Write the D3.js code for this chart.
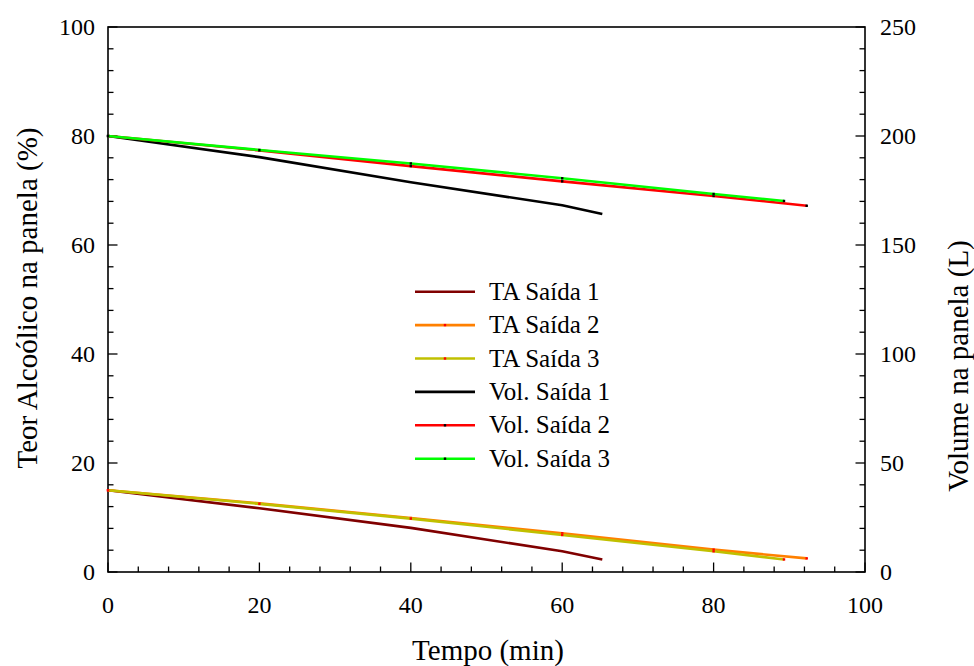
<!DOCTYPE html>
<html>
<head>
<meta charset="utf-8">
<script src="https://cdn.jsdelivr.net/npm/d3@7"></script>
<style>
  html, body { margin: 0; padding: 0; background: #fff; }
  text { font-family: "Liberation Serif", "Times New Roman", serif; fill: #000; }
</style>
</head>
<body>
<svg id="chart" width="974" height="666"></svg>
<script>
// Alcohol content (left axis, %) and pot volume (right axis, L) over time (min)
const timesS1 = [0, 20, 40, 60, 65.3];
const timesS2 = [0, 20, 40, 60, 80, 92.3];
const timesS3 = [0, 20, 40, 60, 80, 89.3];

const taSaida1 = [15, 11.7, 8.1, 3.8, 2.3];
const taSaida2 = [15, 12.6, 9.9, 7.1, 4.1, 2.5];
const taSaida3 = [15, 12.5, 9.8, 6.8, 3.8, 2.3];

const volSaida1 = [200, 190.3, 178.8, 168.2, 164.2];
const volSaida2 = [200, 193.4, 186.2, 179.2, 172.5, 168.0];
const volSaida3 = [200, 193.6, 187.4, 180.6, 173.4, 170.2];

const xTicks = [0, 20, 40, 60, 80, 100];
const yLeftTicks = [0, 20, 40, 60, 80, 100];
const yRightTicks = [0, 50, 100, 150, 200, 250];

const series = [
  { name: "TA Saída 1", x: timesS1, y: taSaida1, axis: "left", color: "#800000", marker: null },
  { name: "TA Saída 2", x: timesS2, y: taSaida2, axis: "left", color: "#ff8000", marker: "#ff0000" },
  { name: "TA Saída 3", x: timesS3, y: taSaida3, axis: "left", color: "#c0c000", marker: "#ff0000" },
  { name: "Vol. Saída 1", x: timesS1, y: volSaida1, axis: "right", color: "#000000", marker: null },
  { name: "Vol. Saída 2", x: timesS2, y: volSaida2, axis: "right", color: "#ff0000", marker: "#000000" },
  { name: "Vol. Saída 3", x: timesS3, y: volSaida3, axis: "right", color: "#00ff00", marker: "#000000" }
];

const svg = d3.select("#chart");
const L = 108, R = 865, T = 27, B = 572;

const x = d3.scaleLinear().domain([0, 100]).range([L, R]);
const yL = d3.scaleLinear().domain([0, 100]).range([B, T]);
const yR = d3.scaleLinear().domain([0, 250]).range([B, T]);

const tickFont = 24;
const legendFont = 25;
const titleFont = 29;

// Minor and major ticks, all pointing inward
const g = svg.append("g");
const minorX = d3.range(0, 101, 4).filter(v => v % 20 !== 0);
const minorL = d3.range(0, 101, 4).filter(v => v % 20 !== 0);
const minorR = d3.range(0, 251, 10).filter(v => v % 50 !== 0);

g.selectAll(".mx").data(minorX).join("line")
  .attr("x1", d => x(d)).attr("x2", d => x(d))
  .attr("y1", B).attr("y2", B - 5.5)
  .attr("stroke", "#000").attr("stroke-width", 1.3);
g.selectAll(".Mx").data(xTicks).join("line")
  .attr("x1", d => x(d)).attr("x2", d => x(d))
  .attr("y1", B).attr("y2", B - 9.5)
  .attr("stroke", "#000").attr("stroke-width", 1.3);

g.selectAll(".ml").data(minorL).join("line")
  .attr("x1", L).attr("x2", L + 5.5)
  .attr("y1", d => yL(d)).attr("y2", d => yL(d))
  .attr("stroke", "#000").attr("stroke-width", 1.3);
g.selectAll(".Ml").data(yLeftTicks).join("line")
  .attr("x1", L).attr("x2", L + 9.5)
  .attr("y1", d => yL(d)).attr("y2", d => yL(d))
  .attr("stroke", "#000").attr("stroke-width", 1.3);

g.selectAll(".mr").data(minorR).join("line")
  .attr("x1", R).attr("x2", R - 5.5)
  .attr("y1", d => yR(d)).attr("y2", d => yR(d))
  .attr("stroke", "#000").attr("stroke-width", 1.3);
g.selectAll(".Mr").data(yRightTicks).join("line")
  .attr("x1", R).attr("x2", R - 9.5)
  .attr("y1", d => yR(d)).attr("y2", d => yR(d))
  .attr("stroke", "#000").attr("stroke-width", 1.3);

// Frame
svg.append("rect")
  .attr("x", L).attr("y", T).attr("width", R - L).attr("height", B - T)
  .attr("fill", "none").attr("stroke", "#000").attr("stroke-width", 1.6);

// Tick labels
svg.append("g").selectAll("text").data(xTicks).join("text")
  .attr("x", d => x(d)).attr("y", 613)
  .attr("text-anchor", "middle").attr("font-size", tickFont)
  .text(d => d);
svg.append("g").selectAll("text").data(yLeftTicks).join("text")
  .attr("x", 95).attr("y", d => yL(d) + 8)
  .attr("text-anchor", "end").attr("font-size", tickFont)
  .text(d => d);
svg.append("g").selectAll("text").data(yRightTicks).join("text")
  .attr("x", 880).attr("y", d => yR(d) + 8)
  .attr("text-anchor", "start").attr("font-size", tickFont)
  .text(d => d);

// Axis titles
svg.append("text")
  .attr("transform", "translate(37,298) rotate(-90)")
  .attr("text-anchor", "middle").attr("font-size", titleFont)
  .text("Teor Alcoólico na panela (%)");
svg.append("text")
  .attr("transform", "translate(968,366) rotate(-90)")
  .attr("text-anchor", "middle").attr("font-size", titleFont)
  .text("Volume na panela (L)");
svg.append("text")
  .attr("x", 488).attr("y", 660)
  .attr("text-anchor", "middle").attr("font-size", titleFont)
  .text("Tempo (min)");

// Series lines and markers
const plot = svg.append("g");
series.forEach(s => {
  const ys = s.axis === "left" ? yL : yR;
  const pts = s.x.map((t, i) => [t, s.y[i]]);
  const line = d3.line().x(d => x(d[0])).y(d => ys(d[1]));
  plot.append("path").datum(pts)
    .attr("d", line)
    .attr("fill", "none").attr("stroke", s.color)
    .attr("stroke-width", 2.6).attr("stroke-linejoin", "round");
  if (s.marker) {
    plot.append("g").selectAll("rect").data(pts).join("rect")
      .attr("x", d => x(d[0]) - 1.2).attr("y", d => ys(d[1]) - 1.2)
      .attr("width", 2.4).attr("height", 2.4)
      .attr("fill", s.marker);
  }
});

// Legend
const legend = svg.append("g");
series.forEach((s, i) => {
  const yy = 291.7 + i * 33.4;
  legend.append("line")
    .attr("x1", 415).attr("x2", 475).attr("y1", yy).attr("y2", yy)
    .attr("stroke", s.color).attr("stroke-width", 2.6);
  if (s.marker) {
    legend.append("rect")
      .attr("x", 445 - 1.2).attr("y", yy - 1.2).attr("width", 2.4).attr("height", 2.4)
      .attr("fill", s.marker);
  }
  legend.append("text")
    .attr("x", 489).attr("y", yy + 8)
    .attr("font-size", legendFont)
    .text(s.name);
});
</script>
</body>
</html>
